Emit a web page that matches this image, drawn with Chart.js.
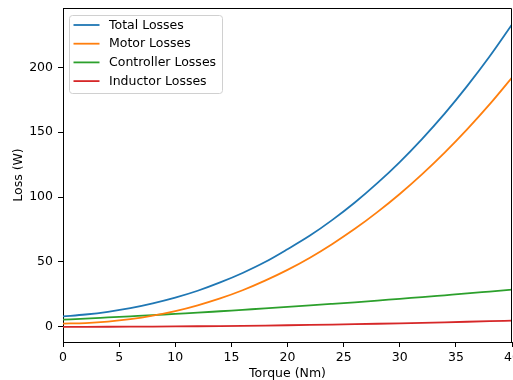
<!DOCTYPE html>
<html>
<head>
<meta charset="utf-8">
<script src="https://cdn.jsdelivr.net/npm/chart.js@4"></script>
<style>
  html, body { margin: 0; padding: 0; background: #fff; }
  canvas { display: block; }
</style>
</head>
<body>
<canvas id="lossChart" width="513" height="380"></canvas>
<script>
// torque points (Nm)
const torque = [0, 2, 4, 6, 8, 10, 12, 14, 16, 18, 20, 22, 24, 26, 28, 30, 32, 34, 36, 38, 40];

// losses (W)
const totalLosses = [8.0, 9.5, 11.6, 14.4, 18.1, 22.5, 27.8, 34.2, 41.5, 49.9, 59.8, 70.3, 82.4, 95.8, 110.7, 127.0, 144.9, 164.3, 185.5, 208.3, 233.0];
const motorLosses = [2.5, 2.9, 4.0, 5.9, 8.6, 12.1, 16.6, 21.9, 28.2, 35.6, 43.9, 53.3, 63.9, 75.5, 88.4, 102.4, 117.7, 134.3, 152.2, 171.4, 192.1];
const controllerLosses = [5.5, 6.3, 7.2, 8.1, 9.0, 10.0, 10.9, 12.0, 13.1, 14.2, 15.3, 16.5, 17.7, 18.9, 20.2, 21.6, 22.9, 24.3, 25.7, 27.2, 28.7];
const inductorLosses = [0.0, 0.01, 0.05, 0.11, 0.19, 0.3, 0.43, 0.59, 0.77, 0.97, 1.2, 1.45, 1.73, 2.03, 2.35, 2.7, 3.07, 3.47, 3.89, 4.33, 4.8];

const xTicks = [0, 5, 10, 15, 20, 25, 30, 35, 40];
const yTicks = [0, 50, 100, 150, 200];

const FONT = 'DejaVu Sans';

function pts(ys) {
  return torque.map((t, i) => ({ x: t, y: ys[i] }));
}

function line(label, ys, color) {
  return {
    label: label,
    data: pts(ys),
    borderColor: color,
    backgroundColor: color,
    borderWidth: 1.8,
    pointRadius: 0,
    cubicInterpolationMode: 'monotone',
    fill: false
  };
}

// top/right spines
const frame = {
  id: 'frame',
  afterDraw(chart) {
    const { ctx, chartArea: a } = chart;
    ctx.save();
    ctx.strokeStyle = '#000';
    ctx.lineWidth = 1;
    ctx.beginPath();
    ctx.moveTo(a.left, a.top + 0.5);
    ctx.lineTo(a.right - 0.5, a.top + 0.5);
    ctx.lineTo(a.right - 0.5, a.bottom);
    ctx.stroke();
    ctx.restore();
  }
};

// matplotlib-like legend inside the axes, upper left
const boxLegend = {
  id: 'boxLegend',
  afterDatasetsDraw(chart) {
    const { ctx, chartArea: a } = chart;
    const sets = chart.data.datasets;
    const x = a.left + 6.5, y = a.top + 7.5, w = 153, h = 78, r = 3;
    ctx.save();
    ctx.beginPath();
    ctx.roundRect(x, y, w, h, r);
    ctx.fillStyle = 'rgba(255,255,255,0.8)';
    ctx.fill();
    ctx.strokeStyle = '#d0d0d0';
    ctx.lineWidth = 1;
    ctx.stroke();
    ctx.font = '12.5px ' + FONT;
    ctx.textBaseline = 'middle';
    ctx.fillStyle = '#000';
    sets.forEach((ds, i) => {
      const cy = y + 9.5 + i * 18.7;
      ctx.strokeStyle = ds.borderColor;
      ctx.lineWidth = 1.8;
      ctx.beginPath();
      ctx.moveTo(a.left + 10.5, cy);
      ctx.lineTo(a.left + 36.5, cy);
      ctx.stroke();
      ctx.fillText(ds.label, a.left + 46, cy + 0.5);
    });
    ctx.restore();
  }
};

new Chart(document.getElementById('lossChart'), {
  type: 'line',
  data: {
    datasets: [
      line('Total Losses', totalLosses, '#1f77b4'),
      line('Motor Losses', motorLosses, '#ff7f0e'),
      line('Controller Losses', controllerLosses, '#2ca02c'),
      line('Inductor Losses', inductorLosses, '#d62728')
    ]
  },
  options: {
    responsive: false,
    animation: false,
    layout: { padding: { top: 8, right: 1, left: 0, bottom: 0 } },
    plugins: {
      legend: { display: false },
      tooltip: { enabled: false }
    },
    scales: {
      x: {
        type: 'linear',
        min: 0,
        max: 40,
        afterBuildTicks: s => { s.ticks = xTicks.map(v => ({ value: v })); },
        afterFit: s => { s.height = 38; s.paddingLeft = 0; s.paddingRight = 0; },
        ticks: { color: '#000', font: { family: FONT, size: 12.5 }, padding: 3, maxRotation: 0 },
        grid: { drawOnChartArea: false, drawTicks: true, tickLength: 5, color: '#000' },
        border: { display: true, color: '#000', width: 1 },
        title: {
          display: true,
          text: 'Torque (Nm)',
          color: '#000',
          font: { family: FONT, size: 12.5, lineHeight: 1 },
          padding: { top: 0, bottom: 0 }
        }
      },
      y: {
        type: 'linear',
        min: -11.7,
        max: 245.7,
        afterBuildTicks: s => { s.ticks = yTicks.map(v => ({ value: v })); },
        afterFit: s => { s.width = 63; s.paddingTop = 0; s.paddingBottom = 0; },
        ticks: { color: '#000', font: { family: FONT, size: 12.5 }, padding: 5 },
        grid: { drawOnChartArea: false, drawTicks: true, tickLength: 5, color: '#000' },
        border: { display: true, color: '#000', width: 1 },
        title: {
          display: true,
          text: 'Loss (W)',
          color: '#000',
          font: { family: FONT, size: 12.5, lineHeight: 1 },
          padding: { top: 12, bottom: 0 }
        }
      }
    }
  },
  plugins: [frame, boxLegend]
});
</script>
</body>
</html>
